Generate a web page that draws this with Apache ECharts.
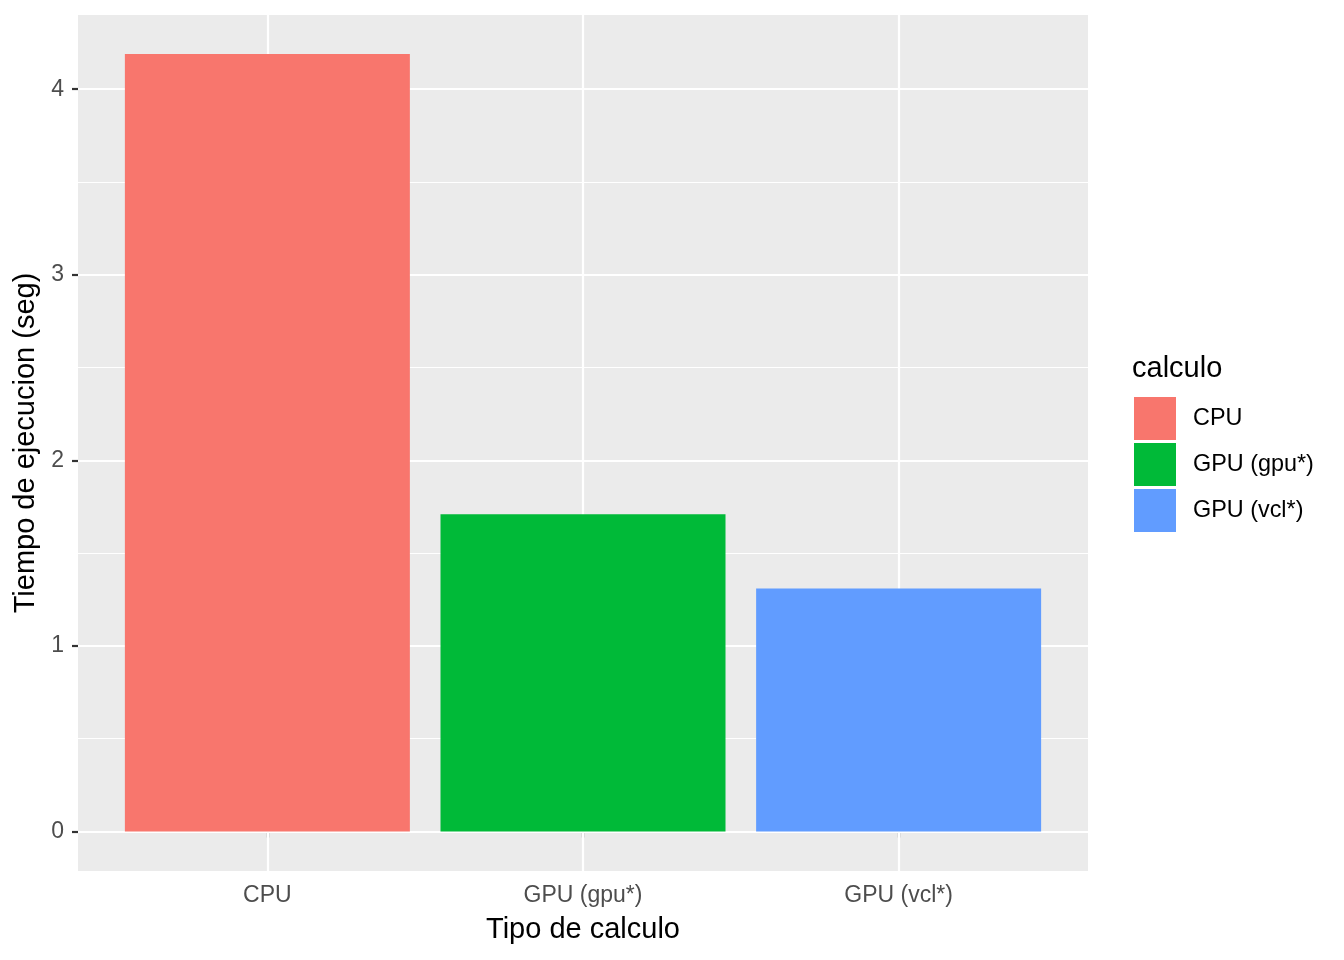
<!DOCTYPE html>
<html>
<head>
<meta charset="utf-8">
<script src="https://cdn.jsdelivr.net/npm/echarts@6/dist/echarts.min.js"></script>
<style>
    html, body { margin: 0; padding: 0; background: #fff; }
    #chart { width: 1344px; height: 960px; }
</style>
</head>
<body>
<div id="chart"></div>
<script>
// datos
var categorias = ['CPU', 'GPU (gpu*)', 'GPU (vcl*)'];
var tiempos = [4.19, 1.71, 1.31];
var colores = ['#F8766D', '#00BA38', '#619CFF'];
var posiciones = [1, 2, 3];
var yMayores = [0, 1, 2, 3, 4];
var yMenores = [0.5, 1.5, 2.5, 3.5];

var fuente = 'Liberation Sans';

var lineasGuia = [];
yMayores.forEach(function (v) {
    lineasGuia.push({ yAxis: v, lineStyle: { width: 2.2 } });
});
yMenores.forEach(function (v) {
    lineasGuia.push({ yAxis: v, lineStyle: { width: 1.1 } });
});
posiciones.forEach(function (v) {
    lineasGuia.push({ xAxis: v, lineStyle: { width: 2.2 } });
});

var series = [{
    name: 'guias',
    type: 'line',
    data: [],
    z: 1,
    silent: true,
    markLine: {
        silent: true,
        z: 1,
        symbol: ['none', 'none'],
        label: { show: false },
        lineStyle: { color: '#FFFFFF', type: 'solid' },
        emphasis: { disabled: true },
        data: lineasGuia
    }
}];
categorias.forEach(function (c, i) {
    series.push({
        name: c,
        type: 'bar',
        z: 3,
        barWidth: 285,
        barGap: '-100%',
        itemStyle: { color: colores[i] },
        data: [[posiciones[i], tiempos[i]]]
    });
});

var chart = echarts.init(document.getElementById('chart'));
chart.setOption({
    animation: false,
    textStyle: { fontFamily: fuente },
    title: {
        text: 'calculo',
        left: 1127,
        top: 349,
        textStyle: { fontFamily: fuente, fontSize: 29, fontWeight: 'normal', color: '#000' }
    },
    legend: {
        data: categorias,
        orient: 'vertical',
        left: 1134,
        top: 397,
        padding: 0,
        itemWidth: 42,
        itemHeight: 43,
        itemGap: 3,
        icon: 'rect',
        textStyle: { fontFamily: fuente, fontSize: 23.4, color: '#000', padding: [5, 0, 0, 12] }
    },
    grid: {
        left: 78,
        right: 256,
        top: 15,
        bottom: 89,
        show: true,
        backgroundColor: '#EBEBEB',
        borderWidth: 0
    },
    xAxis: {
        type: 'value',
        min: 0.4,
        max: 3.6,
        name: 'Tipo de calculo',
        nameLocation: 'middle',
        nameGap: 44,
        nameTextStyle: { fontFamily: fuente, fontSize: 29, color: '#000' },
        axisLine: { show: false },
        splitLine: { show: false },
        axisTick: {
            show: true,
            customValues: posiciones,
            length: 6,
            lineStyle: { color: '#333333', width: 2.2 }
        },
        axisLabel: {
            customValues: posiciones,
            margin: 13,
            fontSize: 23,
            color: '#4D4D4D',
            fontFamily: fuente,
            formatter: function (v) { return categorias[Math.round(v) - 1]; }
        }
    },
    yAxis: {
        type: 'value',
        min: -0.2128,
        max: 4.4,
        name: 'Tiempo de ejecucion (seg)',
        nameLocation: 'middle',
        nameGap: 33,
        nameTextStyle: { fontFamily: fuente, fontSize: 29, color: '#000' },
        axisLine: { show: false },
        splitLine: { show: false },
        axisTick: {
            show: true,
            customValues: yMayores,
            length: 6,
            lineStyle: { color: '#333333', width: 2.2 }
        },
        axisLabel: {
            customValues: yMayores,
            margin: 14,
            fontSize: 23,
            color: '#4D4D4D',
            fontFamily: fuente
        }
    },
    series: series
});
</script>
</body>
</html>
